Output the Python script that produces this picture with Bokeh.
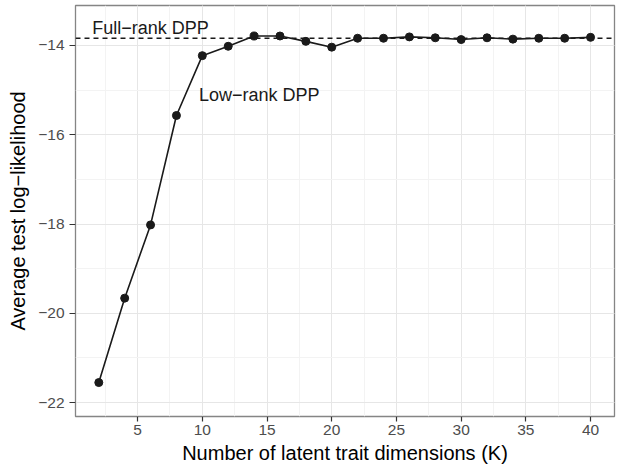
from bokeh.plotting import figure
from bokeh.models import (Range1d, SingleIntervalTicker, Span, Label,
                          CustomJSTickFormatter)
from bokeh.embed import file_html
from bokeh.resources import INLINE

# ---- data ----
latent_dims = [2, 4, 6, 8, 10, 12, 14, 16, 18, 20,
               22, 24, 26, 28, 30, 32, 34, 36, 38, 40]
low_rank_ll = [-21.55, -19.66, -18.02, -15.57, -14.23, -14.02, -13.79, -13.79,
               -13.91, -14.04, -13.84, -13.84, -13.81, -13.83, -13.87, -13.83,
               -13.86, -13.84, -13.84, -13.82]
full_rank_ll = -13.84

FONT = "Liberation Sans"
INK = "#1a1a1a"

p = figure(width=621, height=466, output_backend="svg", toolbar_location=None,
           x_range=Range1d(0.2, 41.85), y_range=Range1d(-22.31, -13.107),
           min_border_left=75, min_border_right=7, min_border_top=5,
           min_border_bottom=49)

p.background_fill_color = "white"
p.border_fill_color = "white"
p.outline_line_color = "#858585"
p.outline_line_width = 1.3

# grids
p.xaxis.ticker = SingleIntervalTicker(interval=5, num_minor_ticks=2)
p.yaxis.ticker = SingleIntervalTicker(interval=2, num_minor_ticks=2)
for g in (p.xgrid, p.ygrid):
    g.grid_line_color = "#e6e6e6"
    g.grid_line_width = 1
    g.minor_grid_line_color = "#f3f3f3"
    g.minor_grid_line_width = 1

p.yaxis.formatter = CustomJSTickFormatter(
    code="return String(tick).replace('-', '\u2212');")

for ax in (p.xaxis, p.yaxis):
    ax.axis_line_color = None
    ax.minor_tick_line_color = None
    ax.major_tick_line_color = "#333333"
    ax.major_tick_line_width = 1.2
    ax.major_tick_in = 0
    ax.major_label_text_font = FONT
    ax.major_label_text_font_size = "15.5px"
    ax.major_label_text_color = "#4d4d4d"
    ax.axis_label_text_font = FONT
    ax.axis_label_text_font_size = "20px"
    ax.axis_label_text_font_style = "normal"
    ax.axis_label_text_color = "#000000"

p.xaxis.axis_label = "Number of latent trait dimensions (K)"
p.yaxis.axis_label = "Average test log\u2212likelihood"
p.xaxis.major_tick_out = 5
p.yaxis.major_tick_out = 6
p.xaxis.major_label_standoff = 3
p.xaxis.axis_label_standoff = 4
p.yaxis.major_label_standoff = 5
p.yaxis.axis_label_standoff = 6

# full-rank reference line
p.add_layout(Span(location=full_rank_ll, dimension="width", line_color=INK,
                  line_width=1.3, line_dash="5 4"))

# low-rank curve
p.line(latent_dims, low_rank_ll, line_color=INK, line_width=1.6)
p.scatter(latent_dims, low_rank_ll, size=8, fill_color=INK, line_color=INK)

# annotations
p.add_layout(Label(x=6, y=-13.6, text="Full\u2212rank DPP", text_align="center",
                   text_baseline="middle", text_font=FONT, text_font_size="18px",
                   text_color=INK))
p.add_layout(Label(x=14.4, y=-15.1, text="Low\u2212rank DPP", text_align="center",
                   text_baseline="middle", text_font=FONT, text_font_size="18px",
                   text_color=INK))

open("out.html", "w").write(file_html(p, INLINE))
